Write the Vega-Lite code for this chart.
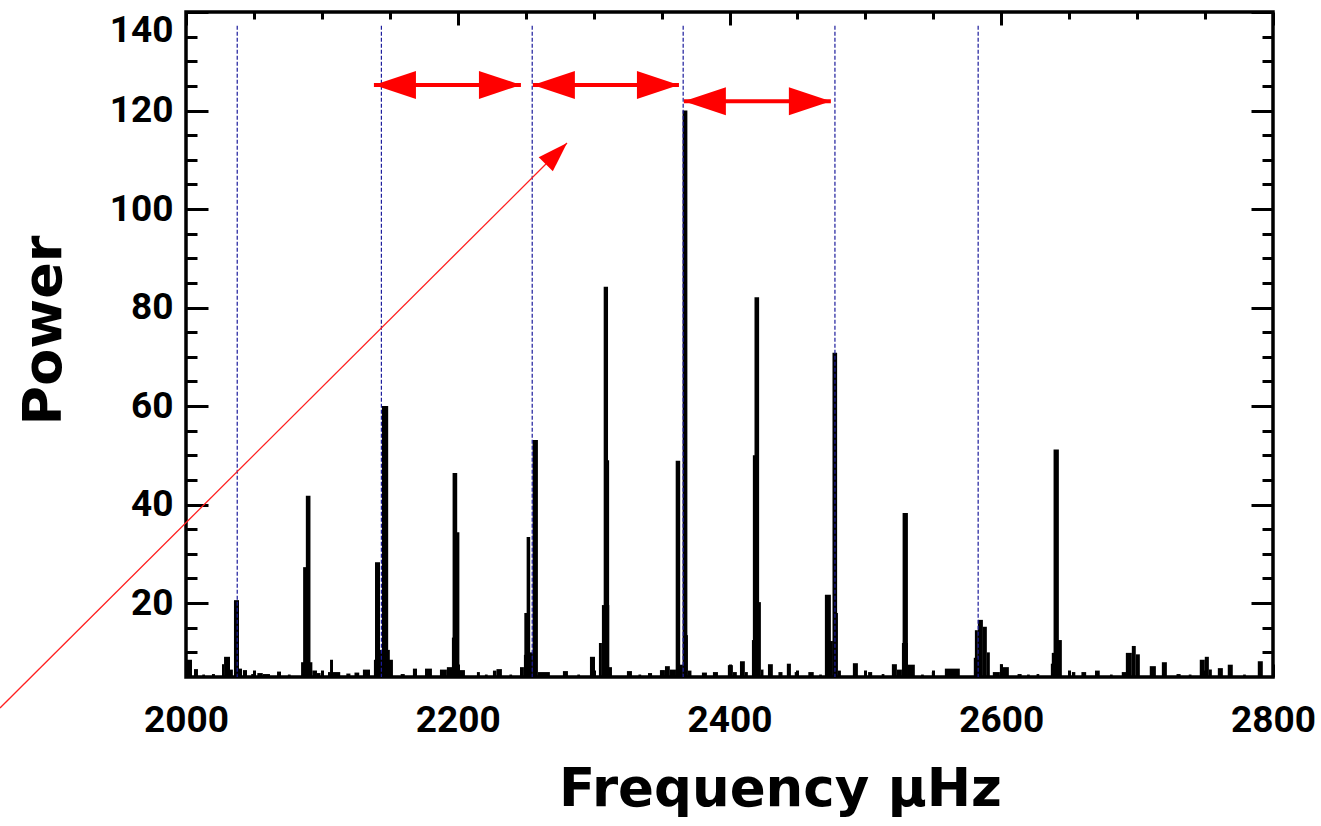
{
  "$schema": "https://vega.github.io/schema/vega-lite/v6.json",
  "width": 1087,
  "height": 665,
  "autosize": "none",
  "padding": {"left": 186, "top": 12, "right": 48, "bottom": 149},
  "background": "white",
  "config": {
    "view": {"stroke": "black", "strokeWidth": 3.5},
    "axis": {"domain": false, "grid": false, "tickColor": "black", "tickWidth": 3, "labelColor": "black", "titleColor": "black"}
  },
  "resolve": {"axis": {"x": "independent", "y": "independent"}},
  "datasets": {
    "spec": [
      {"f":2000.0,"f2":2004.4,"p":8.5},{"f":2005.9,"f2":2008.8,"p":6.6},{"f":2012.0,"f2":2014.0,"p":5.5},{"f":2019.1,"f2":2021.3,"p":5.6},
      {"f":2026.5,"f2":2028.0,"p":7.6},{"f":2028.0,"f2":2032.4,"p":9.1},{"f":2032.4,"f2":2034.5,"p":6.5},{"f":2035.3,"f2":2039.0,"p":20.6},
      {"f":2039.0,"f2":2041.2,"p":6.7},{"f":2041.9,"f2":2044.9,"p":6.4},{"f":2048.0,"f2":2050.0,"p":5.6},{"f":2052.5,"f2":2056.5,"p":5.8},
      {"f":2056.5,"f2":2061.8,"p":5.6},{"f":2067.0,"f2":2069.9,"p":6.1},{"f":2075.0,"f2":2077.0,"p":5.5},{"f":2084.7,"f2":2093.0,"p":8.0},
      {"f":2086.2,"f2":2089.0,"p":27.3},{"f":2088.2,"f2":2091.6,"p":41.8},{"f":2093.0,"f2":2096.4,"p":6.3},{"f":2096.4,"f2":2099.0,"p":5.8},
      {"f":2104.5,"f2":2106.5,"p":6.0},{"f":2106.0,"f2":2108.2,"p":8.5},{"f":2108.2,"f2":2113.5,"p":6.0},{"f":2118.0,"f2":2121.0,"p":5.7},
      {"f":2124.0,"f2":2127.5,"p":5.9},{"f":2130.2,"f2":2135.4,"p":6.5},{"f":2138.3,"f2":2152.3,"p":8.5},{"f":2141.0,"f2":2150.0,"p":10.5},
      {"f":2139.1,"f2":2142.8,"p":28.3},{"f":2144.2,"f2":2148.8,"p":60.0},{"f":2158.0,"f2":2161.0,"p":5.6},{"f":2167.0,"f2":2170.0,"p":6.7},
      {"f":2175.9,"f2":2181.0,"p":6.7},{"f":2186.9,"f2":2192.0,"p":6.5},{"f":2192.0,"f2":2197.0,"p":7.0},{"f":2195.7,"f2":2197.9,"p":13.0},
      {"f":2196.2,"f2":2199.6,"p":46.4},{"f":2198.7,"f2":2201.2,"p":34.4},{"f":2199.4,"f2":2205.3,"p":6.4},{"f":2214.1,"f2":2216.3,"p":6.0},
      {"f":2220.0,"f2":2222.0,"p":5.5},{"f":2225.9,"f2":2228.5,"p":6.3},{"f":2228.5,"f2":2232.5,"p":6.6},{"f":2238.0,"f2":2240.0,"p":5.5},
      {"f":2245.8,"f2":2248.7,"p":7.0},{"f":2248.7,"f2":2251.7,"p":9.5},{"f":2249.0,"f2":2251.0,"p":18.0},{"f":2250.7,"f2":2253.3,"p":33.4},
      {"f":2253.1,"f2":2255.3,"p":10.0},{"f":2255.1,"f2":2259.0,"p":53.1},{"f":2259.0,"f2":2267.8,"p":6.0},{"f":2277.4,"f2":2281.1,"p":6.2},
      {"f":2288.0,"f2":2290.0,"p":5.5},{"f":2297.3,"f2":2301.0,"p":9.1},{"f":2303.9,"f2":2306.1,"p":11.9},{"f":2306.1,"f2":2311.5,"p":19.6},
      {"f":2307.4,"f2":2310.6,"p":84.2},{"f":2309.0,"f2":2311.4,"p":49.0},{"f":2309.8,"f2":2313.5,"p":7.0},{"f":2324.5,"f2":2328.2,"p":6.2},
      {"f":2333.0,"f2":2335.0,"p":5.5},{"f":2340.0,"f2":2343.0,"p":5.8},{"f":2348.8,"f2":2352.5,"p":6.4},{"f":2352.5,"f2":2356.1,"p":7.2},
      {"f":2356.1,"f2":2360.6,"p":6.5},{"f":2360.4,"f2":2363.7,"p":48.9},{"f":2363.5,"f2":2365.7,"p":7.5},{"f":2365.5,"f2":2369.0,"p":120.0},
      {"f":2365.7,"f2":2369.4,"p":13.5},{"f":2369.4,"f2":2372.0,"p":6.3},{"f":2379.7,"f2":2383.4,"p":5.9},{"f":2387.8,"f2":2391.5,"p":6.0},
      {"f":2398.8,"f2":2402.5,"p":7.4},{"f":2402.5,"f2":2405.4,"p":6.0},{"f":2407.7,"f2":2411.3,"p":8.2},{"f":2411.3,"f2":2413.5,"p":6.0},
      {"f":2416.5,"f2":2422.4,"p":12.5},{"f":2417.2,"f2":2420.2,"p":50.0},{"f":2418.4,"f2":2421.8,"p":82.1},{"f":2420.2,"f2":2423.1,"p":20.2},
      {"f":2423.1,"f2":2425.0,"p":6.5},{"f":2428.3,"f2":2431.9,"p":7.6},{"f":2436.0,"f2":2439.0,"p":6.0},{"f":2442.2,"f2":2445.2,"p":7.7},
      {"f":2448.0,"f2":2451.0,"p":6.0},{"f":2458.0,"f2":2462.0,"p":6.0},{"f":2466.0,"f2":2468.0,"p":5.5},{"f":2470.2,"f2":2474.6,"p":21.7},
      {"f":2471.7,"f2":2476.1,"p":12.3},{"f":2475.8,"f2":2479.2,"p":70.8},{"f":2476.8,"f2":2479.8,"p":18.0},{"f":2479.8,"f2":2482.0,"p":6.3},
      {"f":2490.8,"f2":2494.5,"p":7.8},{"f":2502.0,"f2":2505.0,"p":6.0},{"f":2512.0,"f2":2514.0,"p":5.6},{"f":2519.5,"f2":2523.2,"p":7.6},
      {"f":2523.2,"f2":2526.9,"p":6.5},{"f":2526.9,"f2":2531.3,"p":11.9},{"f":2527.4,"f2":2531.3,"p":38.3},{"f":2531.3,"f2":2536.4,"p":7.5},
      {"f":2541.0,"f2":2543.0,"p":5.5},{"f":2548.9,"f2":2551.1,"p":6.0},{"f":2558.5,"f2":2569.5,"p":6.7},{"f":2579.8,"f2":2582.8,"p":8.9},
      {"f":2580.6,"f2":2582.8,"p":14.5},{"f":2582.8,"f2":2586.5,"p":16.6},{"f":2586.5,"f2":2589.4,"p":15.2},{"f":2589.4,"f2":2591.6,"p":10.0},
      {"f":2593.8,"f2":2599.0,"p":6.0},{"f":2599.0,"f2":2601.2,"p":7.6},{"f":2601.2,"f2":2605.6,"p":7.0},{"f":2612.0,"f2":2615.0,"p":5.6},
      {"f":2619.0,"f2":2621.0,"p":5.5},{"f":2626.0,"f2":2628.0,"p":5.6},{"f":2636.5,"f2":2640.2,"p":7.7},{"f":2637.2,"f2":2640.9,"p":9.9},
      {"f":2638.5,"f2":2642.4,"p":51.2},{"f":2640.9,"f2":2644.6,"p":12.5},{"f":2652.0,"f2":2654.5,"p":6.0},{"f":2659.0,"f2":2662.5,"p":6.0},
      {"f":2669.0,"f2":2672.5,"p":6.3},{"f":2680.0,"f2":2682.0,"p":5.5},{"f":2688.7,"f2":2692.4,"p":6.0},{"f":2691.7,"f2":2696.1,"p":9.9},
      {"f":2696.1,"f2":2699.0,"p":11.3},{"f":2699.0,"f2":2702.0,"p":9.6},{"f":2709.3,"f2":2713.8,"p":7.2},{"f":2718.2,"f2":2721.9,"p":8.0},
      {"f":2729.0,"f2":2732.0,"p":5.6},{"f":2738.0,"f2":2740.0,"p":5.5},{"f":2746.1,"f2":2749.8,"p":8.5},{"f":2749.8,"f2":2752.8,"p":9.1},
      {"f":2752.8,"f2":2755.0,"p":6.5},{"f":2759.4,"f2":2763.1,"p":6.8},{"f":2766.7,"f2":2770.4,"p":7.5},{"f":2778.0,"f2":2780.0,"p":5.5},
      {"f":2788.8,"f2":2792.5,"p":8.2}
    ],
    "lines": [{"f": 2037.7}, {"f": 2143.8}, {"f": 2254.8}, {"f": 2365.9}, {"f": 2477.6}, {"f": 2583.0}],
    "arrows": [
      {"a": 2138.3, "b": 2246.5, "p": 125.2},
      {"a": 2255.3, "b": 2362.8, "p": 125.2},
      {"a": 2366.4, "b": 2474.6, "p": 121.9}
    ],
    "pointer": [{"f": 1863.1, "p": -1.3, "end": "start"}, {"f": 2280.4, "p": 113.4, "end": "tip"}]
  },
  "layer": [
    {
      "data": {"name": "spec"},
      "mark": {"type": "rect", "color": "black"},
      "encoding": {
        "x": {"field": "f", "type": "quantitative", "scale": {"domain": [2000, 2800]},
          "axis": {"orient": "bottom", "values": [2000, 2200, 2400, 2600, 2800], "format": "d", "ticks": false, "labelFlush": false,
            "labelFont": "Roboto", "labelFontWeight": "bold", "labelFontSize": 37, "labelPadding": 25,
            "title": "Frequency µHz", "titleFont": "DejaVu Sans", "titleFontWeight": "bold", "titleFontSize": 53,
            "titleX": 594, "titleY": 128, "titleBaseline": "alphabetic", "titleAlign": "center"}},
        "x2": {"field": "f2"},
        "y": {"field": "p", "type": "quantitative", "scale": {"domain": [5, 140]},
          "axis": {"orient": "left", "values": [20, 40, 60, 80, 100, 120, 140], "format": "d", "ticks": false, "labelFlush": true,
            "labelFont": "Roboto", "labelFontWeight": "bold", "labelFontSize": 37, "labelPadding": 13,
            "title": "Power", "titleFont": "DejaVu Sans", "titleFontWeight": "bold", "titleFontSize": 54,
            "titleAngle": 270, "titleX": -126, "titleY": 318, "titleBaseline": "alphabetic", "titleAlign": "center"}},
        "y2": {"datum": 5}
      }
    },
    {
      "data": {"name": "lines"},
      "mark": {"type": "rule", "color": "#1c1c9c", "strokeWidth": 1.2, "strokeDash": [4, 2]},
      "encoding": {
        "x": {"field": "f", "type": "quantitative", "scale": {"domain": [2000, 2800]},
          "axis": {"orient": "bottom", "values": [2000, 2200, 2400, 2600, 2800], "labels": false, "tickSize": -13, "title": null}},
        "y": {"datum": 137.2, "type": "quantitative", "scale": {"domain": [5, 140]},
          "axis": {"orient": "left", "values": [20, 40, 60, 80, 100, 120, 140], "labels": false, "tickSize": -22, "title": null}},
        "y2": {"datum": 5}
      }
    },
    {
      "data": {"name": "arrows"},
      "mark": {"type": "rule", "color": "#ff0000", "strokeWidth": 4},
      "encoding": {
        "x": {"field": "a", "type": "quantitative", "scale": {"domain": [2000, 2800]},
          "axis": {"orient": "bottom", "values": [2050, 2100, 2150, 2250, 2300, 2350, 2450, 2500, 2550, 2650, 2700, 2750], "labels": false, "tickSize": -7, "title": null}},
        "x2": {"field": "b"},
        "y": {"field": "p", "type": "quantitative", "scale": {"domain": [5, 140]},
          "axis": {"orient": "left", "values": [10, 15, 25, 30, 35, 45, 50, 55, 65, 70, 75, 85, 90, 95, 105, 110, 115, 125, 130, 135], "labels": false, "tickSize": -11, "title": null}}
      }
    },
    {
      "data": {"name": "arrows"},
      "mark": {"type": "point", "shape": "M0,0L-3,-1L-3,1Z", "filled": true, "color": "#ff0000", "opacity": 1, "size": 784, "angle": 180, "strokeWidth": 0},
      "encoding": {
        "x": {"field": "a", "type": "quantitative", "scale": {"domain": [2000, 2800]},
          "axis": {"orient": "top", "values": [2000, 2200, 2400, 2600, 2800], "labels": false, "tickSize": -13, "title": null}},
        "y": {"field": "p", "type": "quantitative", "scale": {"domain": [5, 140]},
          "axis": {"orient": "right", "values": [20, 40, 60, 80, 100, 120, 140], "labels": false, "tickSize": -22, "title": null}}
      }
    },
    {
      "data": {"name": "arrows"},
      "mark": {"type": "point", "shape": "M0,0L-3,-1L-3,1Z", "filled": true, "color": "#ff0000", "opacity": 1, "size": 784, "angle": 0, "strokeWidth": 0},
      "encoding": {
        "x": {"field": "b", "type": "quantitative", "scale": {"domain": [2000, 2800]},
          "axis": {"orient": "top", "values": [2050, 2100, 2150, 2250, 2300, 2350, 2450, 2500, 2550, 2650, 2700, 2750], "labels": false, "tickSize": -7, "title": null}},
        "y": {"field": "p", "type": "quantitative", "scale": {"domain": [5, 140]},
          "axis": {"orient": "right", "values": [10, 15, 25, 30, 35, 45, 50, 55, 65, 70, 75, 85, 90, 95, 105, 110, 115, 125, 130, 135], "labels": false, "tickSize": -11, "title": null}}
      }
    },
    {
      "data": {"name": "pointer"},
      "mark": {"type": "line", "color": "#ff2020", "strokeWidth": 1.3, "clip": false},
      "encoding": {
        "x": {"field": "f", "type": "quantitative", "scale": {"domain": [2000, 2800]}, "axis": null},
        "y": {"field": "p", "type": "quantitative", "scale": {"domain": [5, 140]}, "axis": null}
      }
    },
    {
      "data": {"name": "pointer"},
      "transform": [{"filter": "datum.end === 'tip'"}],
      "mark": {"type": "point", "shape": "M0,0L-3,-1L-3,1Z", "filled": true, "color": "#ff0000", "opacity": 1, "size": 400, "angle": -45, "strokeWidth": 0, "clip": false},
      "encoding": {
        "x": {"field": "f", "type": "quantitative", "scale": {"domain": [2000, 2800]}, "axis": null},
        "y": {"field": "p", "type": "quantitative", "scale": {"domain": [5, 140]}, "axis": null}
      }
    }
  ]
}
